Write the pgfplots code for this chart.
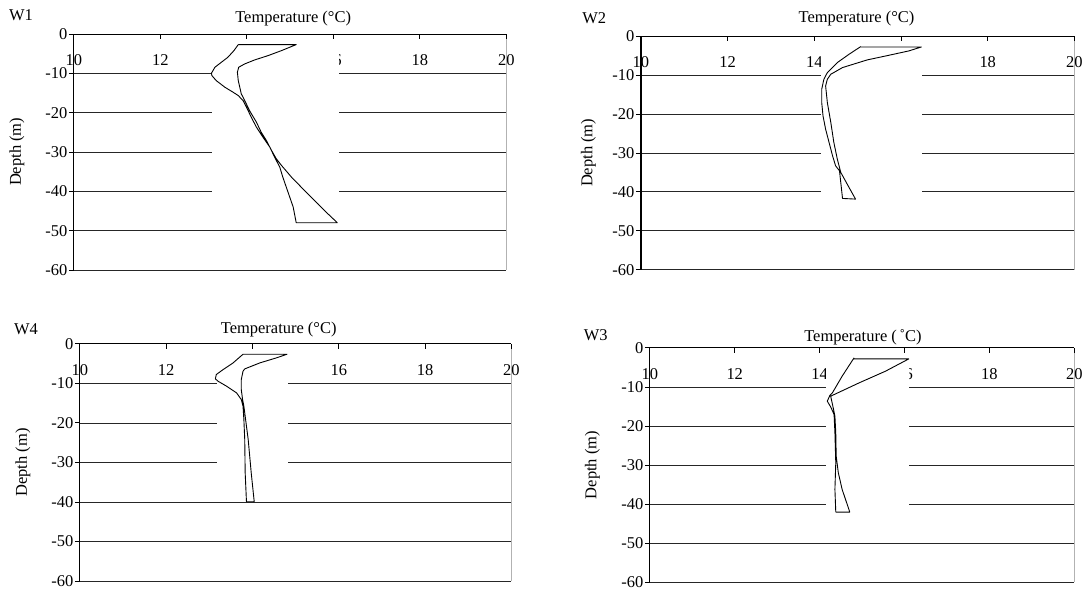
\documentclass[border=0pt]{standalone}
\usepackage{fontspec}
\setmainfont{Liberation Serif}
\usepackage{pgfplots}
\pgfplotsset{compat=1.18}

\newcommand{\chartfont}{\fontsize{16.5}{19}\selectfont}

\pgfplotsset{
  profile/.style={
    set layers,
    scale only axis,
    anchor=south west,
    xmin=10, xmax=20, ymin=-60, ymax=0,
    axis x line*=top,
    axis y line*=left,
    axis line style={black, line width=1.1pt, -},
    xtick={10,12,14,16,18,20},
    ytick={0,-10,-20,-30,-40,-50,-60},
    tick align=inside,
    major tick length=5pt,
    tick style={black, line width=0.9pt},
    ytick style={xshift=-5pt},
    ymajorgrids,
    major grid style={black!85, line width=0.8pt},
    extra x ticks={20},
    extra x tick labels={},
    extra x tick style={grid=major, major grid style={black!30, line width=1pt}, major tick length=0pt},
    tick label style={font=\chartfont},
    /pgf/number format/assume math mode=true,
    xticklabel style={anchor=center, yshift=-26pt},
    yticklabel style={anchor=east, xshift=-3pt},
  },
  % white backing that keeps the grid and tick labels clear of the profiles
  backing/.style={fill=white, draw=none, forget plot},
  loop/.style={black, line width=0.9pt, no marks, line join=round},
}

\begin{document}
\begin{tikzpicture}[font=\chartfont]
\path (0,0) rectangle (1086pt,594pt);

% ---------------- W1 ----------------
\begin{axis}[profile, at={(74pt,323.5pt)}, width=433pt, height=236.2pt]
\addplot[backing] coordinates {(13.2,-2.2) (16.12,-2.2) (16.12,-49) (13.2,-49)};
\addplot[loop] coordinates {
 (13.80,-2.63) (13.70,-4.16) (13.56,-5.85) (13.41,-7.12) (13.26,-8.39) (13.18,-9.91)
 (13.19,-10.51) (13.29,-11.78) (13.49,-13.47) (13.68,-14.74) (13.80,-15.59) (13.91,-16.86)
 (13.99,-18.55) (14.10,-21.09) (14.22,-23.63) (14.37,-26.17) (14.53,-28.71) (14.64,-31.25)
 (14.76,-33.79) (14.83,-36.33) (14.91,-38.87) (14.99,-41.41) (15.07,-43.95) (15.14,-47.93)
 (16.09,-47.93) (15.87,-45.64) (15.64,-43.10) (15.33,-39.72) (15.03,-36.33) (14.80,-33.37)
 (14.68,-31.67) (14.57,-29.56) (14.45,-27.02) (14.33,-24.90) (14.22,-22.36) (14.06,-19.40)
 (13.95,-16.86) (13.87,-15.16) (13.80,-11.78) (13.78,-9.66) (13.81,-8.39) (13.95,-7.54)
 (14.18,-6.53) (14.49,-5.43) (14.80,-4.16) (15.14,-2.63) (13.80,-2.63)};
\end{axis}

% ---------------- W2 ----------------
\begin{axis}[profile, at={(641.7pt,324pt)}, width=434pt, height=233.7pt]
\addplot[backing] coordinates {(14.16,-2) (16.49,-2) (16.49,-45) (14.16,-45)};
\addplot[loop] coordinates {
 (15.07,-2.66) (14.80,-4.63) (14.53,-6.77) (14.30,-9.34) (14.22,-11.05) (14.17,-13.62)
 (14.17,-17.04) (14.20,-20.46) (14.26,-23.89) (14.34,-27.31) (14.42,-30.73) (14.49,-33.30)
 (14.58,-34.58) (14.65,-41.69) (14.95,-41.86) (14.80,-38.86) (14.61,-35.01) (14.53,-31.59)
 (14.45,-27.31) (14.38,-22.17) (14.30,-17.04) (14.26,-12.76) (14.30,-11.05) (14.38,-9.76)
 (14.65,-8.05) (15.22,-6.08) (15.72,-4.89) (16.18,-3.77) (16.47,-2.75) (15.07,-2.75)
 (15.07,-2.66)};
\end{axis}

% ---------------- W4 ----------------
\begin{axis}[profile, at={(80pt,12.3pt)}, width=432pt, height=237.4pt]
\addplot[backing] coordinates {(13.17,-2) (14.83,-2) (14.83,-38.5) (13.17,-38.5)};
\addplot[loop] coordinates {
 (13.78,-2.62) (13.55,-4.81) (13.32,-6.49) (13.16,-7.76) (13.14,-8.85) (13.20,-9.44)
 (13.40,-10.71) (13.63,-12.39) (13.74,-14.08) (13.78,-15.76) (13.80,-19.13) (13.82,-24.19)
 (13.83,-32.61) (13.86,-39.94) (14.04,-39.94) (13.97,-32.61) (13.90,-24.19) (13.83,-18.29)
 (13.80,-15.76) (13.77,-14.08) (13.74,-11.55) (13.74,-9.02) (13.78,-6.92) (13.82,-6.33)
 (14.17,-4.81) (14.55,-3.55) (14.80,-2.62) (13.78,-2.62)};
\end{axis}

% ---------------- W3 ----------------
\begin{axis}[profile, at={(650.6pt,11pt)}, width=425pt, height=234.7pt]
\addplot[backing] coordinates {(14.16,-2) (16.1,-2) (16.1,-45) (14.16,-45)};
\addplot[loop] coordinates {
 (14.81,-2.56) (14.53,-7.25) (14.30,-11.51) (14.24,-12.19) (14.18,-13.64) (14.26,-15.09)
 (14.34,-17.05) (14.36,-21.74) (14.38,-29.40) (14.36,-36.22) (14.38,-42.02) (14.71,-42.02)
 (14.53,-36.22) (14.44,-31.96) (14.39,-27.70) (14.38,-21.74) (14.36,-17.48) (14.32,-15.35)
 (14.26,-12.36) (14.93,-8.95) (15.55,-5.97) (16.10,-2.82) (14.81,-2.82) (14.81,-2.56)};
\end{axis}

% panel names and axis titles
\node at (21pt,578.5pt) {W1};
\node at (293.5pt,575.7pt) {Temperature (°C)};
\node[rotate=90] at (17pt,442pt) {Depth (m)};

\node at (595pt,576pt) {W2};
\node at (857.5pt,575.7pt) {Temperature (°C)};
\node[rotate=90] at (589pt,441pt) {Depth (m)};

\node at (26pt,264pt) {W4};
\node at (279pt,264pt) {Temperature (°C)};
\node[rotate=90] at (23pt,131pt) {Depth (m)};

\node at (596.5pt,258pt) {W3};
\node at (864pt,256pt) {Temperature (\,˚C)};
\node[rotate=90] at (593pt,128.5pt) {Depth (m)};
\end{tikzpicture}
\end{document}
